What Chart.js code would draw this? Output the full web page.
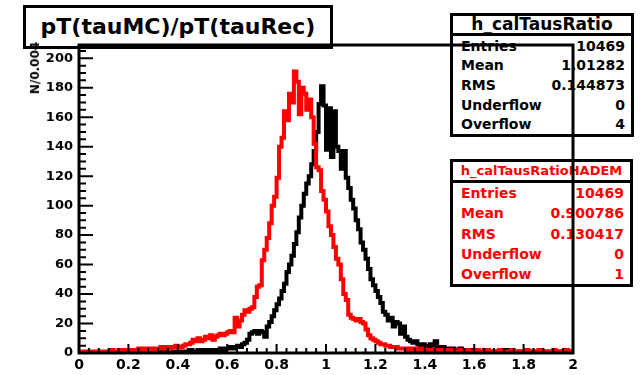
<!DOCTYPE html>
<html>
<head>
<meta charset="utf-8">
<script src="https://cdn.jsdelivr.net/npm/chart.js@4/dist/chart.umd.min.js"></script>
<style>
  html, body { margin: 0; padding: 0; background: #fff; }
  #wrap { position: relative; width: 640px; height: 375px; overflow: hidden; font-family: "DejaVu Sans", sans-serif; font-weight: bold; }
  #chart { position: absolute; left: 0; top: 0; z-index: 2; }
  .box { position: absolute; box-sizing: border-box; border: 3px solid #000; background: #fff; z-index: 1; display: flex; flex-direction: column; }
  .title { left: 23px; top: 5px; width: 310px; height: 44px; font-size: 22px; align-items: center; justify-content: center; line-height: 1; }
  .stats .head { text-align: center; border-bottom: 3px solid #000; }
  .stats .row { flex: 1; display: flex; justify-content: space-between; align-items: center; font-size: 14px; padding: 0 6px 0 8px; }
  #ylab { position: absolute; left: 35px; top: 68px; transform: translate(-50%, -50%) rotate(-90deg); font-size: 12px; z-index: 3; white-space: nowrap; }
</style>
</head>
<body>
<div id="wrap">
  <div class="box title">pT(tauMC)/pT(tauRec)</div>
  <div class="box stats" id="stats1" style="left:450px; top:13px; width:184px; height:124px;"></div>
  <div class="box stats" id="stats2" style="left:450px; top:159px; width:183px; height:128px; color:#ff0000;"></div>
  <div id="ylab">N/0.004</div>
  <canvas id="chart" width="640" height="375"></canvas>
</div>
<script>
// bin contents, bins of 0.01 from 0 to 2
const ratioCounts = [
  0,0,0,0,0,0,0,0,0,0,     0,0,0,0,1,0,0,0,0,0,
  0,0,0,1,0,0,0,0,1,0,     0,1,0,0,1,0,1,0,0,1,
  1,1,0,1,1,1,2,1,1,2,     1,2,1,2,2,1,2,2,3,2,
  3,3,4,3,4,5,4,6,7,9,     13,14,15,13,15,14,11,18,21,25,
  29,33,37,42,47,55,60,66,74,82,   92,100,108,115,120,128,137,150,169,181,
  168,138,166,133,164,140,137,125,137,119,   112,104,98,90,84,75,70,64,57,50,
  46,42,38,34,28,26,22,24,18,21,   20,13,18,11,9,8,7,8,6,5,
  6,5,4,6,5,8,4,3,4,3,     3,2,3,2,2,3,2,2,1,2,
  1,2,1,1,1,2,1,1,1,1,     1,1,1,1,2,1,1,1,1,1,
  1,1,1,0,1,1,1,1,1,0,     1,0,1,1,1,0,1,1,0,1
];
const hademCounts = [
  1,1,0,1,1,1,0,1,1,1,     1,1,1,1,2,1,1,2,1,2,
  2,1,2,2,2,3,2,3,2,3,     3,2,3,3,4,3,4,3,4,4,
  5,4,4,5,6,6,7,9,8,10,    8,9,11,10,12,9,11,12,13,12,
  13,14,15,14,24,18,22,26,29,28,   30,31,38,45,46,63,70,78,88,100,
  106,119,140,146,164,158,176,170,191,184,   162,180,176,165,172,160,142,126,124,110,
  104,96,86,80,72,64,60,50,40,36,   26,24,23,22,23,21,20,16,12,10,
  9,8,7,6,6,5,5,4,4,4,     3,3,3,3,2,3,2,3,2,2,
  3,2,2,2,2,2,1,2,2,1,     2,1,2,1,1,2,1,1,2,1,
  1,1,2,1,1,1,2,1,1,1,     1,2,1,1,1,1,2,1,1,1,
  1,1,2,1,1,1,1,2,1,1,     1,1,1,2,1,1,1,1,2,1
];
const binWidth = 0.01;
const xTicks = [0, 0.2, 0.4, 0.6, 0.8, 1, 1.2, 1.4, 1.6, 1.8, 2];
const yTicks = [0, 20, 40, 60, 80, 100, 120, 140, 160, 180, 200];

const statLabels = ["Entries", "Mean", "RMS", "Underflow", "Overflow"];
const ratioStats = ["10469", "1.01282", "0.144873", "0", "4"];
const hademStats = ["10469", "0.900786", "0.130417", "0", "1"];

function fillStats(id, name, values, headSize, headHeight) {
  const box = document.getElementById(id);
  let html = `<div class="head" style="font-size:${headSize}px; height:${headHeight}px; line-height:${headHeight}px;">${name}</div>`;
  statLabels.forEach((lab, i) => {
    html += `<div class="row"><span>${lab}</span><span>${values[i]}</span></div>`;
  });
  box.innerHTML = html;
}
fillStats("stats1", "h_calTausRatio", ratioStats, 17, 17);
fillStats("stats2", "h_calTausRatioHADEM", hademStats, 13, 18);

function toSteps(counts) {
  const pts = counts.map((c, i) => ({ x: +(i * binWidth).toFixed(2), y: c }));
  pts.push({ x: 2, y: counts[counts.length - 1] });
  return pts;
}

// ROOT style frame with inward ticks
const rootFrame = {
  id: "rootFrame",
  afterDatasetsDraw(chart) {
    const { ctx, chartArea: a, scales } = chart;
    const xs = scales.x, ys = scales.y;
    ctx.save();
    ctx.strokeStyle = "#000";
    ctx.lineWidth = 3;
    ctx.strokeRect(a.left, a.top, a.right - a.left, a.bottom - a.top);
    ctx.lineWidth = 2;
    ctx.beginPath();
    for (let i = 0; i <= 50; i++) {
      const px = xs.getPixelForValue(i * 0.04);
      const len = i % 5 === 0 ? 9 : 5;
      ctx.moveTo(px, a.bottom);
      ctx.lineTo(px, a.bottom - len);
    }
    for (let v = 0; v <= 205; v += 5) {
      const py = ys.getPixelForValue(v);
      const len = v % 20 === 0 ? 14 : 7;
      ctx.moveTo(a.left, py);
      ctx.lineTo(a.left + len, py);
    }
    ctx.stroke();
    ctx.restore();
  }
};

new Chart(document.getElementById("chart"), {
  type: "line",
  data: {
    datasets: [
      {
        label: "h_calTausRatioHADEM",
        data: toSteps(hademCounts),
        borderColor: "#ff0000",
        borderWidth: 4,
        stepped: "after",
        pointRadius: 0,
        fill: false
      },
      {
        label: "h_calTausRatio",
        data: toSteps(ratioCounts),
        borderColor: "#000000",
        borderWidth: 4,
        stepped: "after",
        pointRadius: 0,
        fill: false
      }
    ]
  },
  options: {
    responsive: false,
    animation: false,
    layout: { padding: { top: 45, right: 67, left: 0, bottom: 0 } },
    plugins: { legend: { display: false }, tooltip: { enabled: false } },
    scales: {
      x: {
        type: "linear",
        min: 0,
        max: 2,
        grid: { display: false, drawTicks: false },
        border: { display: false },
        afterFit: (s) => { s.height = 22; },
        afterBuildTicks: (s) => { s.ticks = xTicks.map(v => ({ value: v })); },
        ticks: {
          autoSkip: false,
          maxRotation: 0,
          padding: 4,
          color: "#000",
          font: { family: "DejaVu Sans", size: 14, weight: "bold" },
          callback: (v) => String(+v.toFixed(1))
        }
      },
      y: {
        type: "linear",
        min: 0,
        max: 209,
        grid: { display: false, drawTicks: false },
        border: { display: false },
        afterFit: (s) => { s.width = 79; },
        afterBuildTicks: (s) => { s.ticks = yTicks.map(v => ({ value: v })); },
        ticks: {
          padding: 6,
          color: "#000",
          font: { family: "DejaVu Sans", size: 13, weight: "bold" },
          callback: (v) => String(v)
        }
      }
    }
  },
  plugins: [rootFrame]
});
</script>
</body>
</html>
